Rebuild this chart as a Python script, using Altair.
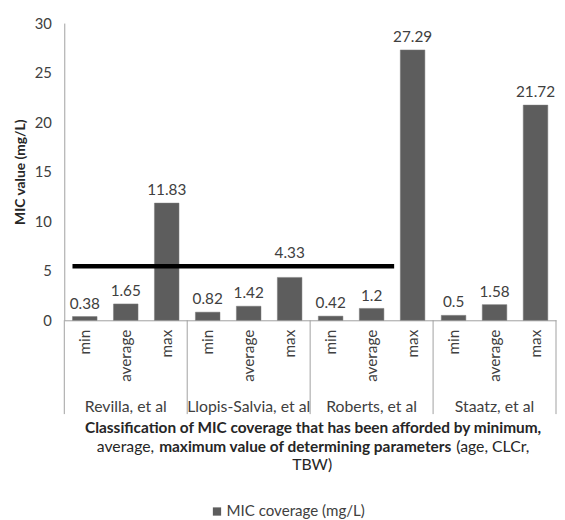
import altair as alt
import pandas as pd

studies = ["Revilla, et al", "Llopis-Salvia, et al", "Roberts, et al", "Staatz, et al"]
levels = ["min", "average", "max"]
values = {
    "Revilla, et al": [0.38, 1.65, 11.83],
    "Llopis-Salvia, et al": [0.82, 1.42, 4.33],
    "Roberts, et al": [0.42, 1.2, 27.29],
    "Staatz, et al": [0.5, 1.58, 21.72],
}
value_labels = {
    "Revilla, et al": ["0.38", "1.65", "11.83"],
    "Llopis-Salvia, et al": ["0.82", "1.42", "4.33"],
    "Roberts, et al": ["0.42", "1.2", "27.29"],
    "Staatz, et al": ["0.5", "1.58", "21.72"],
}
series_name = "MIC coverage (mg/L)"
y_ticks = [0, 5, 10, 15, 20, 25, 30]
# threshold line drawn across the chart (category-index units, MIC value)
threshold_start = -0.3
threshold_end = 7.55
threshold_value = 5.45

title_line1 = "Classification of MIC coverage that has been afforded by minimum,"
title_line2_a = "average,"
title_line2_b = "maximum value of determining parameters"
title_line2_c = "(age, CLCr,"
title_line3 = "TBW)"

rows = []
for g, s in enumerate(studies):
    for k, lv in enumerate(levels):
        rows.append({"idx": g * 3 + k, "study": s, "level": lv,
                     "value": values[s][k], "label": value_labels[s][k],
                     "series": series_name})
df = pd.DataFrame(rows)
groups = pd.DataFrame({"study": studies, "g": list(range(len(studies)))})
seps = pd.DataFrame({"g": list(range(len(studies) + 1))})
thr = pd.DataFrame({"x": [threshold_start], "x2": [threshold_end], "y": [threshold_value]})

W, H = 498, 301
TXT = "#404040"
DARK = "#262626"
AX = "#a0a0a0"

xscale = alt.Scale(domain=[-0.5, 11.5], nice=False, zero=False)
yscale = alt.Scale(domain=[0, 30], nice=False)

base = alt.Chart(df)

bars = base.transform_calculate(
    x0="datum.idx - 0.3", x1="datum.idx + 0.3"
).mark_bar(stroke="#7a7a7a", strokeWidth=0.5).encode(
    x=alt.X("x0:Q", scale=xscale, axis=alt.Axis(
        values=list(range(12)), labelExpr="['min','average','max'][datum.value % 3]",
        labelAngle=-90, grid=False, ticks=False, domainColor=AX, labelFontSize=15.5,
        labelColor=TXT, labelPadding=9, title=None)),
    x2="x1:Q",
    y=alt.Y("value:Q", scale=yscale, axis=alt.Axis(
        values=y_ticks, grid=False, ticks=False, domainColor=AX, labelFontSize=15,
        labelColor=TXT, labelPadding=13, title="MIC value (mg/L)", titleFontSize=14,
        titleFontWeight="bold", titleColor=DARK, titlePadding=7)),
    y2=alt.datum(0),
    color=alt.Color("series:N", scale=alt.Scale(range=["#5d5d5d"]), legend=alt.Legend(
        orient="none", legendX=147, legendY=487, title=None, symbolType="square",
        symbolSize=70, symbolStrokeWidth=0, labelFontSize=15.3, labelColor=TXT, labelOffset=2)),
)

# a value label that would sit under the threshold line is lifted above it
labels = base.transform_calculate(
    ly=f"(datum.value < {threshold_value} && datum.value + 1.6 > {threshold_value}) ? {threshold_value} : datum.value"
).mark_text(baseline="bottom", dy=-5, fontSize=15.5, color=TXT).encode(
    x="idx:Q", y="ly:Q", text="label:N"
)

thr_rule = alt.Chart(thr).mark_rule(color="black", strokeWidth=4.5).encode(
    x="x:Q", x2="x2:Q", y="y:Q"
)

sep_rules = alt.Chart(seps).transform_calculate(sx="datum.g * 3 - 0.5").mark_rule(
    color=AX, strokeWidth=1).encode(
    x="sx:Q", y=alt.value(H), y2=alt.value(H + 95)
)

group_text = alt.Chart(groups).transform_calculate(cx="datum.g * 3 + 1").mark_text(
    fontSize=16, color=TXT, baseline="middle").encode(
    x="cx:Q", y=alt.value(389), text="study:N"
)

def tline(txt, x, y, align, weight, size):
    return alt.Chart(pd.DataFrame({"t": [txt]})).mark_text(
        fontSize=size, fontWeight=weight, color=DARK, align=align, baseline="middle"
    ).encode(x=alt.value(x), y=alt.value(y), text="t:N")

titles = [
    tline(title_line1, 252, 410, "center", "bold", 15.6),
    tline(title_line2_a, 91, 429, "right", "normal", 16),
    tline(title_line2_b, 244, 429, "center", "bold", 15.6),
    tline(title_line2_c, 397, 429, "left", "normal", 16),
    tline(title_line3, 251, 448, "center", "normal", 16),
]

chart = alt.layer(bars, labels, thr_rule, sep_rules, group_text, *titles).properties(
    width=W, height=H, padding={"left": 5, "top": 5, "right": 0, "bottom": 0}
).configure(font="Lato").configure_view(stroke=None)

chart.save("out.html", embed_options={"renderer": "svg", "actions": False})
